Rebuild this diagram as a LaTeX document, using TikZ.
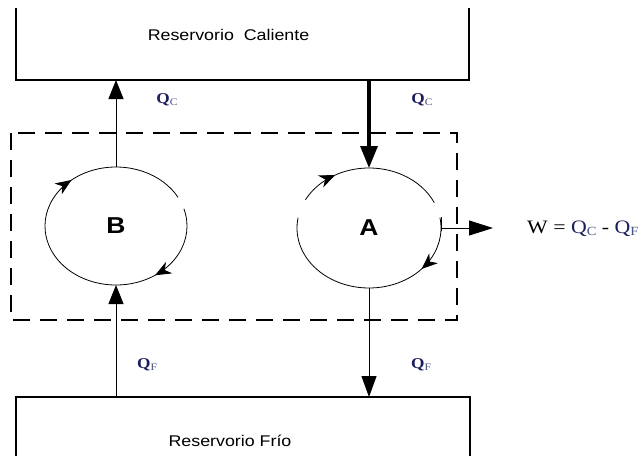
\documentclass[tikz,border=0pt]{standalone}
\usepackage{fontspec}
\setmainfont{Liberation Serif}
\setsansfont{Liberation Sans}
\usetikzlibrary{arrows.meta,decorations.markings,calc}
\definecolor{qnavy}{RGB}{28,30,92}
\definecolor{qsub}{RGB}{70,80,130}
\tikzset{
  wall/.style={line width=1.3pt},
  cyclebox/.style={line width=1.2pt, dash pattern=on 17pt off 10pt},
  flow/.style={line width=1pt},
  bigtip/.style={-{Triangle[width=15pt,length=19pt]}},
  loop/.style={line width=0.8pt},
  wide/.style={xscale=1.15},
  reslabel/.style={wide, font=\sffamily\fontsize{15.5}{18}\selectfont},
  qlabel/.style={wide, font=\fontsize{15}{17}\selectfont\bfseries, text=qnavy},
  engine/.style={wide, font=\sffamily\bfseries\fontsize{23}{26}\selectfont},
  cyclehead/.style={},
  cyctip/.style={decoration={markings, mark=at position #1 with {\arrow{Stealth[length=16pt,width=13pt,inset=5pt]}}}, postaction={decorate}},
  cyctwo/.style 2 args={decoration={markings,
      mark=at position #1 with {\arrow{Stealth[length=16pt,width=13pt,inset=5pt]}},
      mark=at position #2 with {\arrow{Stealth[length=16pt,width=13pt,inset=5pt]}}}, postaction={decorate}}
}
\newcommand{\Qsub}[1]{Q{\fontsize{10}{11}\selectfont\mdseries\color{qsub}\raisebox{-1.5pt}{#1}}}
\begin{document}
\begin{tikzpicture}[x=1pt,y=-1pt]
\useasboundingbox (0,0) rectangle (639,456);

% hot and cold reservoirs (open towards the page edge)
\draw[wall] (16,8) -- (16,80) -- (469,80) -- (469,8);
\draw[wall] (16,456) -- (16,397) -- (470,397) -- (470,456);
\node[reslabel] (hot) at (228.5,35) {Reservorio\ \ Caliente};
\node[reslabel] (cold) at (230,441) {Reservorio Frío};

% reservoir anchor points
\coordinate (hotB) at (116,80);
\coordinate (hotA) at (369,80);
\coordinate (coldB) at (116,397);
\coordinate (coldA) at (369,397);

% system boundary
\draw[cyclebox] (11,133) rectangle (457,320);

% cycle B
\coordinate (Bc) at (116,226);
\coordinate (Btop) at (116,167);
\coordinate (Bbot) at (116,285);
\draw[loop, cyctwo={0.2}{0.7}] ($(Bc)+({71*cos(-17)},{59*sin(-17)})$) arc[start angle=-17, end angle=331, x radius=71, y radius=59];
\node[engine] (B) at (Bc) {B};

% cycle A
\coordinate (Ac) at (369,228);
\coordinate (Atop) at (369,168);
\coordinate (Abot) at (369,288);
\coordinate (Aright) at (441,228);
\draw[loop, cyctip=0.25] ($(Ac)+({72*cos(-10)},{60*sin(-10)})$) arc[start angle=-10, end angle=190, x radius=72, y radius=60];
\draw[loop, cyctip=0.26] ($(Ac)+({72*cos(208)},{60*sin(208)})$) arc[start angle=208, end angle=335, x radius=72, y radius=60];
\node[engine] (A) at (Ac) {A};

% heat flows
\draw[flow, bigtip] (Btop) -- (hotB);
\draw[flow, bigtip] (coldB) -- (Bbot);
\draw[line width=3.2pt, -{Triangle[width=17pt,length=22pt]}] (hotA) -- (Atop);
\draw[flow, -{Triangle[width=15pt,length=21pt]}] (Abot) -- (coldA);

% work output
\coordinate (Wend) at (493,228);
\draw[flow] (441,217) -- (441,231);
\draw[flow, -{Triangle[width=15pt,length=24pt]}] (Aright) -- (Wend);

\node[qlabel] (qc1) at (167,100) {\Qsub{C}};
\node[qlabel] (qc2) at (422,100) {\Qsub{C}};
\node[qlabel] (qf1) at (147,365) {\Qsub{F}};
\node[qlabel] (qf2) at (421,365) {\Qsub{F}};
\node[wide, anchor=west, font=\fontsize{19}{21}\selectfont, inner sep=0pt] (work) at (527,229)
  {W = {\color{qnavy}Q}{\fontsize{12.5}{13}\selectfont\color{qsub}\raisebox{-2pt}{C}} - {\color{qnavy}Q}{\fontsize{12.5}{13}\selectfont\color{qsub}\raisebox{-2pt}{F}}};
\end{tikzpicture}
\end{document}
